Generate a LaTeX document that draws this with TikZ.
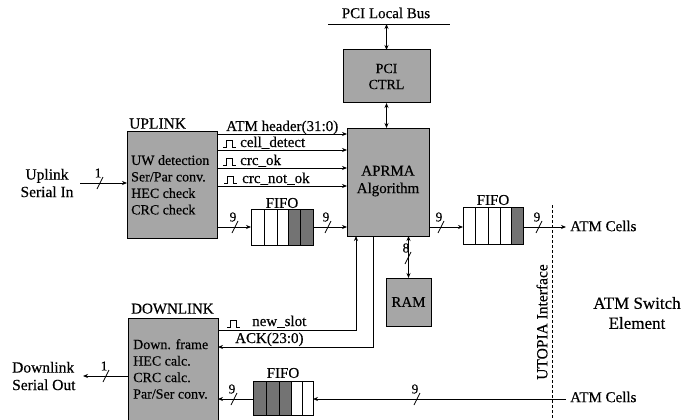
\documentclass[tikz,border=0pt]{standalone}
\usepackage{fontspec}
\setmainfont{Liberation Serif}[FakeBold=0.4]
\usetikzlibrary{arrows.meta}
\tikzset{
  box/.style={draw, line width=1pt, fill=black!35, inner sep=0pt, outer sep=0pt},
  fifobox/.style={draw, line width=0.8pt, inner sep=0pt, outer sep=0pt},
  lbl/.style={font=\fontsize{15}{17.5}\selectfont, inner sep=0pt},
  inlbl/.style={font=\fontsize{14}{16.5}\selectfont, inner sep=0pt, align=left},
  num/.style={font=\fontsize{13.5}{13.5}\selectfont, inner sep=0pt},
  arr/.style={-{Stealth[length=5pt,width=4pt]}, line width=0.8pt},
  dbl/.style={{Stealth[length=5pt,width=4pt]}-{Stealth[length=5pt,width=4pt]}, line width=0.8pt},
  plain/.style={line width=0.8pt},
  darkcell/.style={fill=black!55},
  pics/bus/.style={code={
    \draw[line width=0.7pt] (-3,6) -- (3,-6);
    \node[num] at (-2,-10) {#1};
  }},
  pics/pulse/.style={code={
    \draw[line width=0.6pt] (0,0) -- (3,0) -- (3,-7) -- (9,-7) -- (9,0) -- (13,0);
  }},
}
\begin{document}
\begin{tikzpicture}[x=1pt,y=-1pt]
\useasboundingbox (0,0) rectangle (686,420);

% ---- bus
\coordinate (busL) at (328,24);
\coordinate (busR) at (450,24);
\draw[plain] (busL) -- (busR);
\node[lbl] (buslbl) at (386,13) {PCI Local Bus};

% ---- blocks
\node[box, minimum width=87pt, minimum height=53pt] (pci) at (386.5,76.5) {};
\node[lbl, align=center, font=\fontsize{14}{16}\selectfont] (pcit) at (pci.center) {PCI\\CTRL};

\node[box, minimum width=82pt, minimum height=108pt] (aprma) at (388,182) {};
\node[lbl, align=center] (aprmat) at (388,181) {APRMA\\Algorithm};

\node[box, minimum width=90pt, minimum height=107pt] (up) at (172,184.5) {};
\node[lbl, anchor=south west, font=\fontsize{15.5}{17}\selectfont] (uplbl) at (129,129) {UPLINK};
\node[inlbl, anchor=north west] (upt) at (131,155) {UW detection\\Ser/Par conv.\\HEC check\\CRC check};

\node[box, minimum width=90pt, minimum height=107pt] (down) at (173,371.5) {};
\node[lbl, anchor=south west] (downlbl) at (131,314) {DOWNLINK};
\node[inlbl, anchor=north west] (downt) at (133,339) {Down. frame\\HEC calc.\\CRC calc.\\Par/Ser conv.};

\node[box, minimum width=45pt, minimum height=48pt] (ram) at (408.5,302) {};
\node[lbl] (ramt) at (ram.center) {RAM};

% ---- FIFOs
\fill[darkcell] (288,209) rectangle (313,245);
\foreach \xx in {264,277,288,300} \draw[plain] (\xx,209) -- (\xx,245);
\node[fifobox, minimum width=62pt, minimum height=36pt] (fifo1) at (282,227) {};
\node[lbl] (fifo1l) at (282,203) {FIFO};

\fill[darkcell] (511,207) rectangle (523,244);
\foreach \xx in {475,488,500,511} \draw[plain] (\xx,207) -- (\xx,244);
\node[fifobox, minimum width=60pt, minimum height=37pt] (fifo2) at (493,225.5) {};
\node[lbl] (fifo2l) at (493,200) {FIFO};

\fill[darkcell] (253,381) rectangle (291,415);
\foreach \xx in {266,279,291,302} \draw[plain] (\xx,381) -- (\xx,415);
\node[fifobox, minimum width=60pt, minimum height=34pt] (fifo3) at (283,398) {};
\node[lbl] (fifo3l) at (283,373) {FIFO};

% ---- PCI connections
\draw[dbl] (pci.north |- busL) -- (pci.north);
\draw[dbl] (pci.south) -- (pci.south |- aprma.north);

% ---- uplink signals
\draw[arr] (up.east |- 0,134) -- (aprma.west |- 0,134);
\draw[arr] (up.east |- 0,150) -- (aprma.west |- 0,150);
\draw[arr] (up.east |- 0,168) -- (aprma.west |- 0,168);
\draw[arr] (up.east |- 0,186) -- (aprma.west |- 0,186);
\node[lbl, anchor=base west] (hdr) at (226,131) {ATM header(31:0)};
\pic at (223,147) {pulse};
\node[lbl, anchor=base west] (cd) at (240,147) {cell\_detect};
\pic at (223,165) {pulse};
\node[lbl, anchor=base west] (cok) at (240,165) {crc\_ok};
\pic at (224,183) {pulse};
\node[lbl, anchor=base west] (cnok) at (242,183) {crc\_not\_ok};

% ---- data path
\coordinate (inU) at (80,183);
\draw[arr] (inU) -- (up.west |- inU);
\pic at (100,183) {bus=1};
\node[lbl, align=center, font=\fontsize{15.5}{17.5}\selectfont] (inlbl) at (47,183) {Uplink\\Serial In};

\draw[arr] (up.east |- fifo1.west) -- (fifo1.west);
\pic at (235,227) {bus=9};
\draw[arr] (fifo1.east) -- (aprma.west |- fifo1.east);
\pic at (328,227) {bus=9};
\draw[arr] (aprma.east |- 0,227) -- (fifo2.west |- 0,227);
\pic at (441,227) {bus=9};
\coordinate (atm1) at (566,227);
\draw[arr] (fifo2.east |- atm1) -- (atm1);
\pic at (539,227) {bus=9};
\node[lbl, anchor=west] (atm1l) at (570,226) {ATM Cells};

% ---- RAM
\draw[dbl] (aprma.south -| ram.north) -- (ram.north);
\pic at (408,258) {bus=8};

% ---- downlink control
\coordinate (ns) at (356,330);
\draw[arr] (down.east |- ns) -- (ns) -- (ns |- aprma.south);
\pic at (227,327) {pulse};
\node[lbl, anchor=base west] (nsl) at (252,326) {new\_slot};
\coordinate (ack) at (373,347);
\draw[arr] (ack |- aprma.south) -- (ack) -- (down.east |- ack);
\node[lbl, anchor=base west] (ackl) at (235,343) {ACK(23:0)};

% ---- downlink data path
\coordinate (atm2) at (566,399);
\draw[arr] (atm2) -- (fifo3.east |- atm2);
\pic at (417,399) {bus=9};
\node[lbl, anchor=west] (atm2l) at (570,397) {ATM Cells};
\draw[arr] (fifo3.west |- atm2) -- (down.east |- atm2);
\pic at (234,399) {bus=9};
\coordinate (outD) at (83,376);
\draw[arr] (down.west |- outD) -- (outD);
\pic at (106,376) {bus=1};
\node[lbl, align=left, anchor=west, font=\fontsize{15.5}{17.5}\selectfont] (outlbl) at (12,376) {Downlink\\Serial Out};

% ---- UTOPIA
\coordinate (utT) at (552,205);
\coordinate (utB) at (552,420);
\draw[line width=0.7pt, dash pattern=on 3pt off 2pt] (utT) -- (utB);
\node[lbl, rotate=90, font=\fontsize{15.5}{17}\selectfont] (utl) at (542,322) {UTOPIA Interface};
\node[lbl, align=center, font=\fontsize{17}{20}\selectfont] (ase) at (637,313) {ATM Switch\\Element};
\end{tikzpicture}
\end{document}
